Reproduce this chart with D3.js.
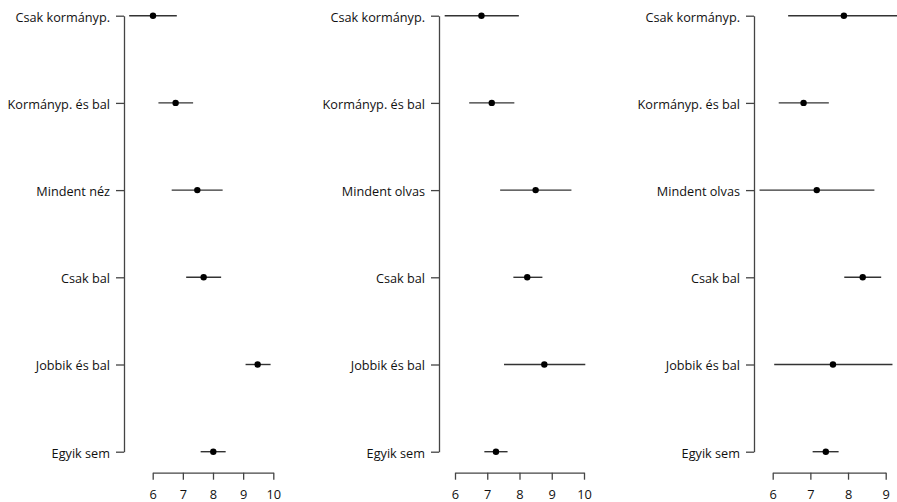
<!DOCTYPE html>
<html>
<head>
<meta charset="utf-8">
<script src="https://cdn.jsdelivr.net/npm/d3@7"></script>
<style>
  body { margin: 0; background: #fff; }
  svg { display: block; font-family: "Open Sans", "Noto Sans", sans-serif; }
</style>
</head>
<body>
<svg id="chart" width="897" height="502"></svg>
<script>
// categories per panel
const labels1 = ["Csak kormányp.", "Kormányp. és bal", "Mindent néz", "Csak bal", "Jobbik és bal", "Egyik sem"]
const labels2 = ["Csak kormányp.", "Kormányp. és bal", "Mindent olvas", "Csak bal", "Jobbik és bal", "Egyik sem"]
const labels3 = ["Csak kormányp.", "Kormányp. és bal", "Mindent olvas", "Csak bal", "Jobbik és bal", "Egyik sem"]

// estimates and interval bounds
const est1 = [6.01, 6.76, 7.48, 7.69, 9.48, 8.01]
const lo1  = [5.22, 6.19, 6.63, 7.11, 9.08, 7.59]
const hi1  = [6.80, 7.34, 8.32, 8.27, 9.91, 8.42]

const est2 = [6.82, 7.14, 8.50, 8.24, 8.77, 7.27]
const lo2  = [5.68, 6.44, 7.40, 7.81, 7.52, 6.91]
const hi2  = [7.98, 7.84, 9.61, 8.71, 10.04, 7.63]

const est3 = [7.89, 6.82, 7.17, 8.39, 7.60, 7.41]
const lo3  = [6.41, 6.16, 5.65, 7.90, 6.04, 7.06]
const hi3  = [9.37, 7.49, 8.70, 8.88, 9.18, 7.75]

// x tick labels
const ticks1 = [6, 7, 8, 9, 10]
const ticks2 = [6, 7, 8, 9, 10]
const ticks3 = [6, 7, 8, 9]

const svg = d3.select('#chart')
const axisCol = '#444'
const fontSize = '12.7px'

const panels = [
  {labels: labels1, est: est1, lo: lo1, hi: hi1, ticks: ticks1, yAxisX: 124, x0: 152.7, x1: 273.3},
  {labels: labels2, est: est2, lo: lo2, hi: hi2, ticks: ticks2, yAxisX: 439, x0: 455, x1: 584},
  {labels: labels3, est: est3, lo: lo3, hi: hi3, ticks: ticks3, yAxisX: 754, x0: 772.7, x1: 885.7}
]

panels.forEach(p => {
  const x = d3.scaleLinear()
    .domain([p.ticks[0], p.ticks[p.ticks.length - 1]])
    .range([p.x0, p.x1])
  const y = d3.scalePoint()
    .domain(p.labels)
    .range([15.7, 451.7])

  const g = svg.append('g')

  // y axis
  const yAxis = g.append('g')
    .attr('transform', `translate(${p.yAxisX},0)`)
    .call(d3.axisLeft(y).tickSize(8).tickPadding(6).tickSizeOuter(0))
  yAxis.select('.domain').attr('stroke', axisCol).attr('stroke-width', 1.3)
  yAxis.selectAll('.tick line').attr('stroke', axisCol).attr('stroke-width', 1.3)
  yAxis.selectAll('.tick text')
    .attr('fill', '#111')
    .attr('dy', '0.42em')
    .style('font-size', fontSize)
    .style('font-family', '"Open Sans", "Noto Sans", sans-serif')

  // x axis
  const xAxis = g.append('g')
    .attr('transform', 'translate(0,472.7)')
    .call(d3.axisBottom(x).tickValues(p.ticks).tickFormat(d3.format('d')).tickSize(7).tickPadding(10).tickSizeOuter(0))
  xAxis.select('.domain').attr('stroke', axisCol).attr('stroke-width', 1.3)
  xAxis.selectAll('.tick line').attr('stroke', axisCol).attr('stroke-width', 1.3)
  xAxis.selectAll('.tick text')
    .attr('fill', '#111')
    .style('font-size', '12.8px')
    .style('font-family', '"Open Sans", "Noto Sans", sans-serif')

  // interval lines
  g.selectAll('line.ci')
    .data(p.labels)
    .enter()
    .append('line')
    .attr('class', 'ci')
    .attr('x1', (d, i) => x(p.lo[i]))
    .attr('x2', (d, i) => x(p.hi[i]))
    .attr('y1', d => y(d))
    .attr('y2', d => y(d))
    .attr('stroke', '#333')
    .attr('stroke-width', 1.4)

  // points
  g.selectAll('circle')
    .data(p.labels)
    .enter()
    .append('circle')
    .attr('cx', (d, i) => x(p.est[i]))
    .attr('cy', d => y(d))
    .attr('r', 3.2)
    .attr('fill', '#000')
})
</script>
</body>
</html>
